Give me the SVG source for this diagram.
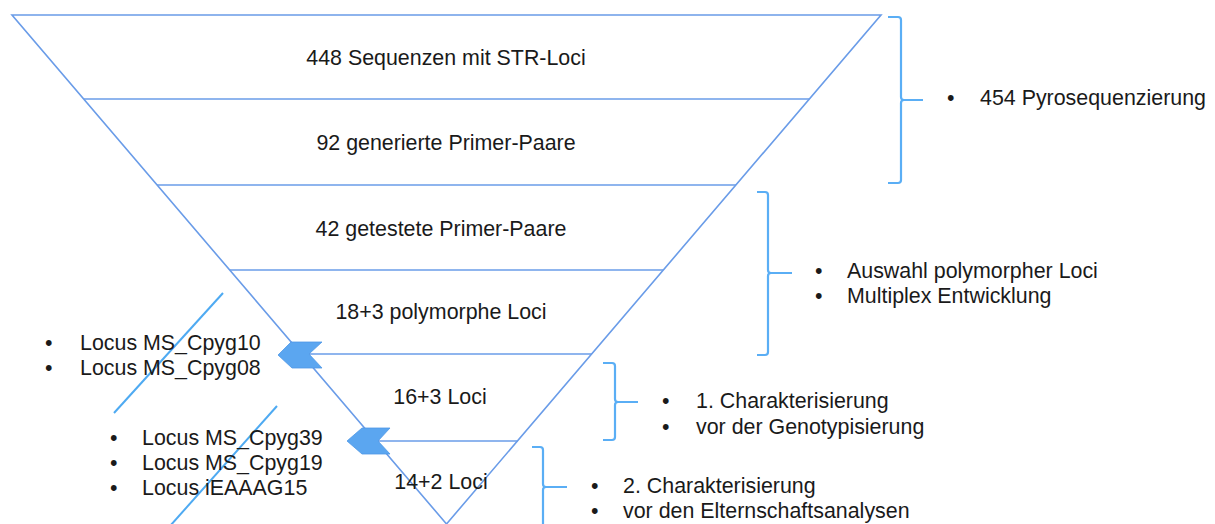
<svg xmlns="http://www.w3.org/2000/svg" width="1215" height="524" viewBox="0 0 1215 524">
  <style>
    text { font-family: "Liberation Sans", Arial, sans-serif; font-size: 21.4px; fill: #1a1a1a; }
    .mid { text-anchor: middle; }
    .funnel { fill: none; stroke: #6a9ce8; stroke-width: 1.6; }
    .brace { fill: none; stroke: #5aaef5; stroke-width: 2.2; }
    .slash { stroke: #4eaaf2; stroke-width: 2; }
    .chev { fill: #5ba6f0; stroke: #4f98e6; stroke-width: 0.8; }
  </style>
  <rect width="1215" height="524" fill="#ffffff"/>

  <!-- Funnel outline and stage dividers -->
  <g id="funnel">
    <polygon class="funnel" points="12,15 881,15 446.5,524"/>
    <line class="funnel" x1="84" y1="99" x2="809" y2="99"/>
    <line class="funnel" x1="157" y1="185" x2="736" y2="185"/>
    <line class="funnel" x1="230" y1="270" x2="663" y2="270"/>
  </g>

  <!-- Stage labels -->
  <g id="stage-448"><text class="mid" x="446" y="65">448 Sequenzen mit STR-Loci</text></g>
  <g id="stage-92"><text class="mid" x="446" y="150">92 generierte Primer-Paare</text></g>
  <g id="stage-42"><text class="mid" x="441" y="236">42 getestete Primer-Paare</text></g>
  <g id="stage-18"><text class="mid" x="441" y="319">18+3 polymorphe Loci</text></g>
  <g id="stage-16"><text class="mid" x="440" y="404">16+3 Loci</text></g>
  <g id="stage-14"><text class="mid" x="441" y="489">14+2 Loci</text></g>

  <!-- Connectors: dividers ending in chevrons, and strike lines -->
  <g id="connectors">
    <line class="funnel" x1="309" y1="354" x2="592" y2="354"/>
    <polygon class="chev" points="278,355 291,342 322,342 309,354 322,368 292,368"/>
    <line class="funnel" x1="378" y1="441" x2="518" y2="441"/>
    <polygon class="chev" points="347,441 362,428 390,428 378,441 390,454 362,454"/>
    <line class="slash" x1="223" y1="293" x2="114" y2="413"/>
    <line class="slash" x1="277" y1="406" x2="170" y2="526"/>
  </g>

  <!-- Brackets -->
  <g id="brace-pyro">
    <path class="brace" d="M888,17 H898 Q901,17 901,20 V97 Q901,100 904,100 H923 M904,100 Q901,100 901,103 V180 Q901,183 898,183 H888"/>
  </g>
  <g id="brace-auswahl">
    <path class="brace" d="M757,192 H765 Q768,192 768,195 V270 Q768,273 771,273 H792 M771,273 Q768,273 768,276 V352 Q768,355 765,355 H757"/>
  </g>
  <g id="brace-char1">
    <path class="brace" d="M603,363 H612 Q615,363 615,366 V399 Q615,402 618,402 H638 M618,402 Q615,402 615,405 V437 Q615,440 612,440 H603"/>
  </g>
  <g id="brace-char2">
    <path class="brace" d="M532,447 H540 Q543,447 543,450 V484 Q543,487 546,487 H567 M546,487 Q543,487 543,490 V526"/>
  </g>

  <!-- Side notes -->
  <g id="note-pyro">
    <text x="947" y="105">•</text><text x="980" y="105">454 Pyrosequenzierung</text>
  </g>
  <g id="note-auswahl">
    <text x="815" y="278">•</text><text x="847" y="278">Auswahl polymorpher Loci</text>
    <text x="815" y="303">•</text><text x="847" y="303">Multiplex Entwicklung</text>
  </g>
  <g id="note-char1">
    <text x="662" y="408">•</text><text x="696" y="408">1. Charakterisierung</text>
    <text x="662" y="434">•</text><text x="696" y="434">vor der Genotypisierung</text>
  </g>
  <g id="note-char2">
    <text x="591" y="493">•</text><text x="623" y="493">2. Charakterisierung</text>
    <text x="591" y="518">•</text><text x="623" y="518">vor den Elternschaftsanalysen</text>
  </g>
  <g id="note-removed1">
    <text x="45" y="350">•</text><text x="80" y="350">Locus MS_Cpyg10</text>
    <text x="45" y="375">•</text><text x="80" y="375">Locus MS_Cpyg08</text>
  </g>
  <g id="note-removed2">
    <text x="110" y="445">•</text><text x="142" y="445">Locus MS_Cpyg39</text>
    <text x="110" y="470">•</text><text x="142" y="470">Locus MS_Cpyg19</text>
    <text x="110" y="495">•</text><text x="142" y="495">Locus iEAAAG15</text>
  </g>
</svg>
